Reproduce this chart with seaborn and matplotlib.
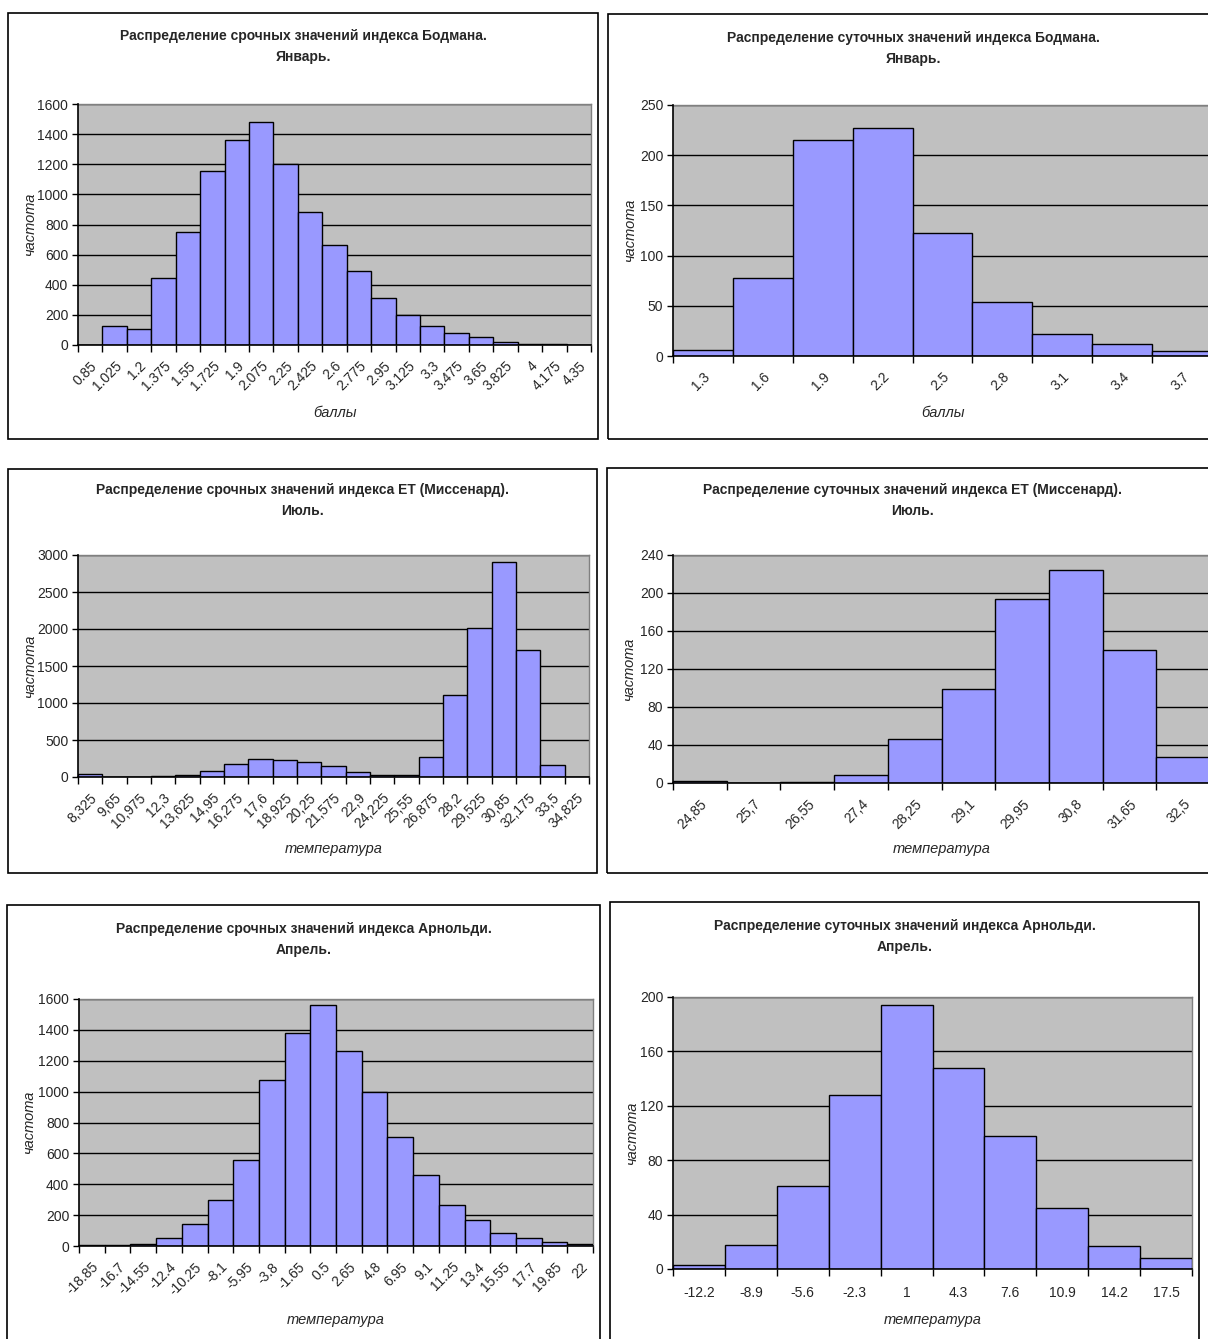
import matplotlib
matplotlib.use("Agg")
import matplotlib.pyplot as plt
import seaborn as sns
import pandas as pd
from matplotlib.patches import Rectangle
from matplotlib.ticker import FixedLocator

sns.set_style("white")
plt.rcParams['font.family'] = ['Liberation Sans', 'DejaVu Sans']

# ---------------- data ----------------
bodman_hourly_labels = ["0.85", "1.025", "1.2", "1.375", "1.55", "1.725", "1.9", "2.075", "2.25",
                        "2.425", "2.6", "2.775", "2.95", "3.125", "3.3", "3.475", "3.65", "3.825",
                        "4", "4.175", "4.35"]
bodman_hourly_counts = [0, 126, 106, 444, 749, 1158, 1359, 1483, 1204, 884, 661, 491, 314, 197,
                        124, 77, 55, 22, 7, 7, 0]

bodman_daily_labels = ["1.3", "1.6", "1.9", "2.2", "2.5", "2.8", "3.1", "3.4", "3.7"]
bodman_daily_counts = [6, 78, 215, 227, 123, 54, 22, 12, 5]

et_hourly_labels = ["8,325", "9,65", "10,975", "12,3", "13,625", "14,95", "16,275", "17,6",
                    "18,925", "20,25", "21,575", "22,9", "24,225", "25,55", "26,875", "28,2",
                    "29,525", "30,85", "32,175", "33,5", "34,825"]
et_hourly_counts = [41, 0, 0, 10, 30, 86, 171, 239, 230, 203, 149, 72, 32, 32, 266, 1108, 2014,
                    2905, 1721, 158, 0]

et_daily_labels = ["24,85", "25,7", "26,55", "27,4", "28,25", "29,1", "29,95", "30,8", "31,65", "32,5"]
et_daily_counts = [2, 0, 1, 8, 46, 99, 194, 224, 140, 27]

arn_hourly_labels = ["-18.85", "-16.7", "-14.55", "-12.4", "-10.25", "-8.1", "-5.95", "-3.8",
                     "-1.65", "0.5", "2.65", "4.8", "6.95", "9.1", "11.25", "13.4", "15.55",
                     "17.7", "19.85", "22"]
arn_hourly_counts = [5, 5, 12, 50, 141, 297, 559, 1074, 1377, 1563, 1260, 998, 704, 461, 268,
                     167, 84, 50, 24, 14]

arn_daily_labels = ["-12.2", "-8.9", "-5.6", "-2.3", "1", "4.3", "7.6", "10.9", "14.2", "17.5"]
arn_daily_counts = [3, 18, 61, 128, 194, 148, 98, 45, 17, 8]

titles = [
    "Распределение срочных значений индекса Бодмана.\nЯнварь.",
    "Распределение суточных значений индекса Бодмана.\nЯнварь.",
    "Распределение срочных значений индекса ЕТ (Миссенард).\nИюль.",
    "Распределение суточных значений индекса ЕТ (Миссенард).\nИюль.",
    "Распределение срочных значений индекса Арнольди.\nАпрель.",
    "Распределение суточных значений индекса Арнольди.\nАпрель.",
]
xlabels = ["баллы", "баллы", "температура", "температура", "температура", "температура"]
ylabel = "частота"
ymax = [1600, 250, 3000, 240, 1600, 200]
ystep = [200, 50, 500, 40, 200, 40]

# ---------------- layout (pixels) ----------------
W, H = 1208, 1339
fig = plt.figure(figsize=(W / 100, H / 100), dpi=100)
fig.patch.set_facecolor("white")

frames = [(8, 13, 598, 439), (608, 14, 1218, 439),
          (8, 469, 597, 873), (607, 468, 1218, 873),
          (7, 905, 600, 1350), (610, 902, 1199, 1350)]
plots = [(78, 104, 591, 345), (673, 105, 1212, 356),
         (78, 555, 589, 777), (673, 555, 1210, 783),
         (79, 999, 593, 1246), (673, 997, 1192, 1269)]
title_y = [36, 38, 490, 490, 929, 926]
xlabel_y = [413, 413, 849, 849, 1320, 1320]
rotated = [True, True, True, True, True, False]

datasets = [(bodman_hourly_labels, bodman_hourly_counts),
            (bodman_daily_labels, bodman_daily_counts),
            (et_hourly_labels, et_hourly_counts),
            (et_daily_labels, et_daily_counts),
            (arn_hourly_labels, arn_hourly_counts),
            (arn_daily_labels, arn_daily_counts)]


def fx(x):
    return x / W


def fy(y):
    return 1 - y / H


for i in range(6):
    fx0, fy0, fx1, fy1 = frames[i]
    fig.patches.append(Rectangle((fx(fx0), fy(fy1)), fx(fx1) - fx(fx0), fy(fy0) - fy(fy1),
                                 transform=fig.transFigure, fill=False,
                                 edgecolor="black", linewidth=1.2, zorder=0))
    # title
    fig.text(fx((fx0 + fx1) / 2), fy(title_y[i] + 10.5), titles[i], ha="center", va="center",
             fontsize=10, fontweight="bold", linespacing=1.65)

    x0, y0, x1, y1 = plots[i]
    ax = fig.add_axes([fx(x0), fy(y1), fx(x1) - fx(x0), fy(y0) - fy(y1)])
    labels, counts = datasets[i]
    df = pd.DataFrame({"cat": labels, "cnt": counts})
    sns.barplot(data=df, x="cat", y="cnt", order=labels, ax=ax, color="#9999FF",
                saturation=1, edgecolor="black", linewidth=1.0, width=1.0, zorder=3)
    n = len(labels)
    ax.set_facecolor("#C0C0C0")
    ax.set_xlim(-0.5, n - 0.5)
    ax.set_ylim(0, ymax[i])
    yt = list(range(0, ymax[i] + 1, ystep[i]))
    ax.set_yticks(yt)
    ax.set_yticklabels([str(v) for v in yt])
    ax.yaxis.grid(True, color="black", linewidth=1.0, zorder=1)
    ax.xaxis.grid(False)
    ax.set_axisbelow(True)

    ax.set_xticks(list(range(n)))
    if rotated[i]:
        ax.set_xticklabels(labels, rotation=45, ha="right", va="top", rotation_mode="anchor")
    else:
        ax.set_xticklabels(labels)
    ax.xaxis.set_minor_locator(FixedLocator([k - 0.5 for k in range(n + 1)]))
    ax.tick_params(axis="x", which="major", length=0, pad=10 if rotated[i] else 12,
                   labelsize=10)
    ax.tick_params(axis="x", which="minor", length=5, width=1, color="black", direction="out",
                   bottom=True)
    ax.tick_params(axis="y", which="major", length=4, width=1, color="black", direction="out",
                   left=True, labelsize=10, pad=3)

    for s in ["left", "bottom"]:
        ax.spines[s].set_color("black")
        ax.spines[s].set_linewidth(1.2)
        ax.spines[s].set_zorder(5)
    for s in ["top", "right"]:
        ax.spines[s].set_color("#808080")
        ax.spines[s].set_linewidth(1.0)

    ax.set_xlabel("")
    ax.set_ylabel("")
    fig.text(fx((x0 + x1) / 2), fy(xlabel_y[i]), xlabels[i], ha="center", va="center",
             fontsize=10.5, fontstyle="italic")
    fig.text(fx(fx0 + 22), fy((y0 + y1) / 2), ylabel, ha="center", va="center",
             rotation=90, fontsize=10.5, fontstyle="italic")

fig.savefig("out.png", dpi=100, facecolor="white")
